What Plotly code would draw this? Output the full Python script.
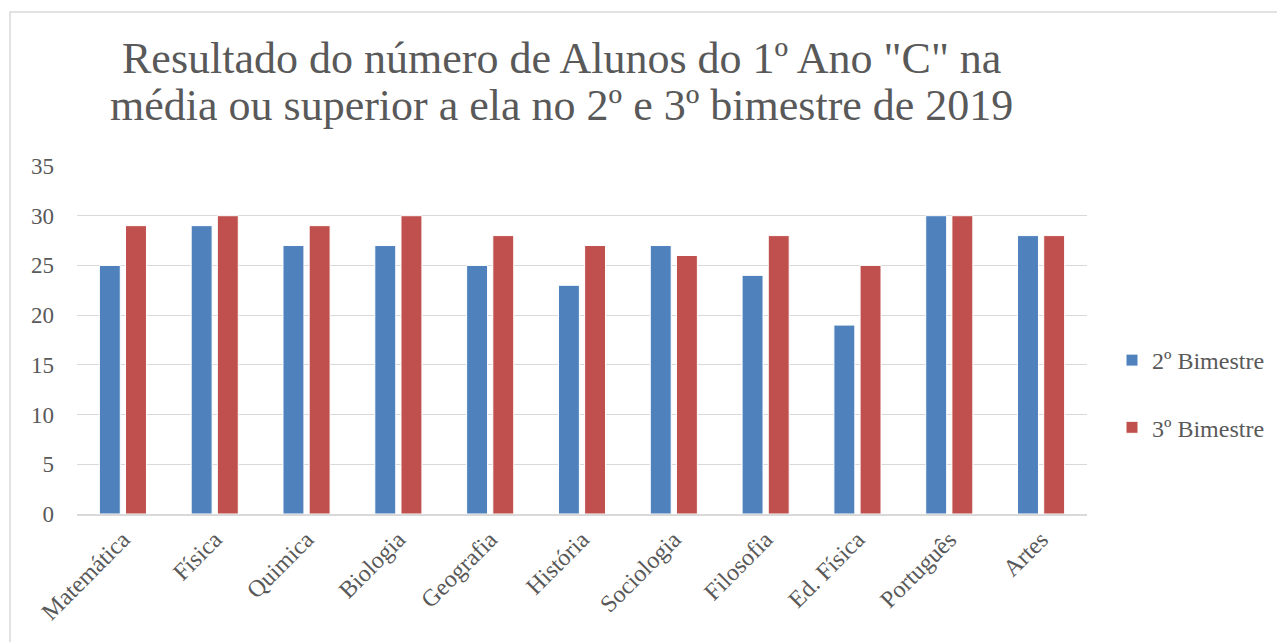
import plotly.graph_objects as go

categories = ["Matemática", "Física", "Quimica", "Biologia", "Geografia", "História",
              "Sociologia", "Filosofia", "Ed. Física", "Português", "Artes"]
bim2 = [25, 29, 27, 27, 25, 23, 27, 24, 19, 30, 28]
bim3 = [29, 30, 29, 30, 28, 27, 26, 28, 25, 30, 28]
series_names = ["2º Bimestre", "3º Bimestre"]
yticks = [0, 5, 10, 15, 20, 25, 30, 35]
title_lines = ["Resultado do número de Alunos do 1º Ano \"C\" na",
               "média ou superior a ela no 2º e 3º bimestre de 2019"]

FONT = "Liberation Serif"
TXT = "#595959"

OFF = 8  # page body margin
W, H = 1285 - OFF, 642 - OFF
# plot area in window coordinates
PX0, PX1, PY0, PY1 = 77, 1087, 166, 514
L = PX0 - OFF
T = PY0 - OFF
R = W - (PX1 - OFF)
B = H - (PY1 - OFF)
pw = PX1 - PX0
ph = PY1 - PY0


def px(x):
    return (x - PX0) / pw


def py(y):
    return (PY1 - y) / ph


fig = go.Figure()
fig.add_trace(go.Bar(x=categories, y=bim2, name=series_names[0], legendgroup="a",
                     marker=dict(color="#4F81BD", line=dict(color="#FFFFFF", width=1))))
fig.add_trace(go.Bar(x=categories, y=bim3, name=series_names[1], legendgroup="b",
                     marker=dict(color="#C0504D", line=dict(color="#FFFFFF", width=1))))

fig.add_shape(type="rect", xref="paper", yref="paper",
              x0=px(10), x1=px(1300), y0=py(660), y1=py(12),
              line=dict(color="#D9D9D9", width=1.5), fillcolor="rgba(0,0,0,0)", layer="below")

for line, yb in zip(title_lines, [85, 132]):
    fig.add_annotation(text=line, xref="paper", yref="paper", x=px(561), y=py(yb),
                       xanchor="center", yanchor="bottom", showarrow=False,
                       font=dict(family=FONT, size=44, color=TXT))

fig.update_layout(
    width=W, height=H,
    margin=dict(l=L, r=R, t=T, b=B),
    paper_bgcolor="white", plot_bgcolor="white",
    barmode="group", bargap=0.43, bargroupgap=0.2,
    font=dict(family=FONT, color=TXT),
    showlegend=True,
    legend=dict(x=px(1112), xanchor="left", y=py(394), yanchor="middle",
                font=dict(family=FONT, size=24, color=TXT), tracegroupgap=33,
                bgcolor="rgba(0,0,0,0)"),
    xaxis=dict(tickangle=-45, tickfont=dict(family=FONT, size=24, color=TXT),
               showline=True, linecolor="#D9D9D9", linewidth=2, ticks="",
               showgrid=False),
    yaxis=dict(range=[0, 35], tickvals=yticks, tickfont=dict(family=FONT, size=23, color=TXT),
               showgrid=True, gridcolor="#D9D9D9", gridwidth=1.3, zeroline=False,
               showline=False, ticks="", ticklabelstandoff=22),
)

fig.write_html("out.html")
